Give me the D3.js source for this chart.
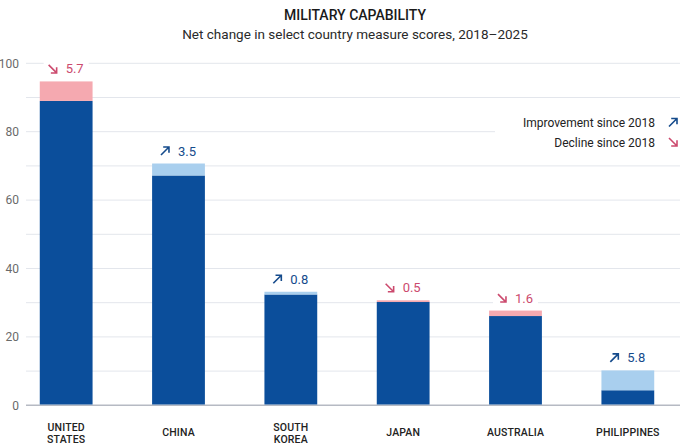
<!DOCTYPE html>
<html>
<head>
  <meta charset="UTF-8">
  <title>Military capability</title>
  <style type="text/css">
    body { margin: 0; background: #fff; }
    text { font-family: Roboto, "Noto Sans", sans-serif; }
  </style>
</head>
<body>
  <script src="https://d3js.org/d3.v7.min.js"></script>
  <script>
    // chart data
    var countries = ["UNITED STATES", "CHINA", "SOUTH KOREA", "JAPAN", "AUSTRALIA", "PHILIPPINES"];
    var countryLines = [["UNITED", "STATES"], ["CHINA"], ["SOUTH", "KOREA"], ["JAPAN"], ["AUSTRALIA"], ["PHILIPPINES"]];
    // lower of the two scores (dark part of the bar)
    var baseScores = [89.0, 67.2, 32.4, 30.2, 26.1, 4.4];
    // net change 2018-2025 (light part of the bar)
    var changes = [5.7, 3.5, 0.8, 0.5, 1.6, 5.8];
    var directions = ["down", "up", "up", "down", "down", "up"];
    var yTicks = [0, 20, 40, 60, 80, 100];
    var gridTicks = [0, 10, 20, 30, 40, 50, 60, 70, 80, 90, 100];
    var legendLabels = ["Improvement since 2018", "Decline since 2018"];
    var legendDirections = ["up", "down"];

    var W = 680, H = 446;
    var darkBlue = "#0b4e9b", lightBlue = "#a9cfee", pink = "#f5a9b0";
    var blueText = "#154b8c", pinkText = "#cc4a6e";

    var svg = d3.select("body").append("svg")
      .attr("width", W)
      .attr("height", H);

    var xScale = d3.scaleBand()
      .domain(countries)
      .range([10, 684])
      .paddingInner(0.53)
      .paddingOuter(0.265);

    var yScale = d3.scaleLinear()
      .domain([0, 100])
      .range([405.3, 63.3]);

    // title
    svg.append("text")
      .attr("x", 355).attr("y", 19.5)
      .attr("text-anchor", "middle")
      .style("font-size", "14px").style("font-weight", 500)
      .style("fill", "#1a1a1a")
      .text("MILITARY CAPABILITY");
    svg.append("text")
      .attr("x", 355).attr("y", 39)
      .attr("text-anchor", "middle")
      .style("font-size", "13.5px")
      .style("fill", "#2a2a2a")
      .text("Net change in select country measure scores, 2018\u20132025");

    // gridlines
    svg.append("g").selectAll("line")
      .data(gridTicks)
      .enter().append("line")
      .attr("x1", 26).attr("x2", W)
      .attr("y1", function(d) { return yScale(d); })
      .attr("y2", function(d) { return yScale(d); })
      .style("stroke", function(d) { return d === 0 ? "#b6bac3" : "#e3e6ec"; })
      .style("stroke-width", function(d) { return d === 0 ? 1.6 : 1; });

    // y axis labels
    var yAxis = d3.axisLeft(yScale).tickValues(yTicks).tickSize(0).tickPadding(0);
    var yg = svg.append("g")
      .attr("transform", "translate(19,0)")
      .call(yAxis);
    yg.select(".domain").remove();
    yg.selectAll("text")
      .style("font-family", "Roboto, sans-serif")
      .style("font-size", "12px")
      .style("fill", "#6a6a6a");

    // arrow glyph, 8x8, bottom-left at (0,0)
    function arrowPath(dir) {
      if (dir === "up") return "M0,0L8,-8M2.2,-8L8,-8L8,-2.2";
      return "M0,-8L8,0M8,-5.8L8,0L2.2,0";
    }

    var rows = countries.map(function(c, i) {
      return { name: c, base: baseScores[i], change: changes[i], dir: directions[i], lines: countryLines[i] };
    });

    // bars: dark base then light change on top
    var bars = svg.append("g");
    bars.selectAll("rect.base")
      .data(rows)
      .enter().append("rect")
      .attr("class", "base")
      .attr("x", function(d) { return xScale(d.name); })
      .attr("width", xScale.bandwidth())
      .attr("y", function(d) { return yScale(d.base); })
      .attr("height", function(d) { return yScale(0) - yScale(d.base) - 0.8; })
      .style("fill", darkBlue);
    bars.selectAll("rect.change")
      .data(rows)
      .enter().append("rect")
      .attr("class", "change")
      .attr("x", function(d) { return xScale(d.name); })
      .attr("width", xScale.bandwidth())
      .attr("y", function(d) { return yScale(d.base + d.change); })
      .attr("height", function(d) { return yScale(d.base) - yScale(d.base + d.change); })
      .style("fill", function(d) { return d.dir === "up" ? lightBlue : pink; });

    // value labels with white backing
    rows.forEach(function(d) {
      var cx = xScale(d.name) + xScale.bandwidth() / 2;
      var by = yScale(d.base + d.change) - 8;
      var col = d.dir === "up" ? blueText : pinkText;
      var g = svg.append("g");
      var bg = g.append("rect").style("fill", "#fff");
      var arrow = g.append("path")
        .attr("d", arrowPath(d.dir))
        .style("fill", "none")
        .style("stroke", col)
        .style("stroke-width", 1.6);
      var t = g.append("text")
        .attr("y", by)
        .style("font-size", "13px")
        .style("fill", col)
        .text(d.change.toFixed(1));
      var tw = t.node().getComputedTextLength();
      var total = 8 + 9 + tw;
      var x0 = cx - total / 2;
      arrow.attr("transform", "translate(" + x0 + "," + (by - 0.5) + ")");
      t.attr("x", x0 + 17);
      bg.attr("x", x0 - 5).attr("y", by - 12)
        .attr("width", total + 10).attr("height", 15);
    });

    // x labels
    var xl = svg.append("g").selectAll("text")
      .data(rows)
      .enter().append("text")
      .attr("text-anchor", "middle")
      .attr("x", function(d) { return xScale(d.name) + xScale.bandwidth() / 2; })
      .attr("y", function(d) { return d.lines.length > 1 ? 431 : 435.5; })
      .style("font-size", "10.5px")
      .style("font-weight", 500)
      .style("letter-spacing", "0.15px")
      .style("fill", "#222");
    xl.selectAll("tspan")
      .data(function(d) { return d.lines; })
      .enter().append("tspan")
      .attr("x", function() { return d3.select(this.parentNode).attr("x"); })
      .attr("dy", function(d, i) { return i === 0 ? 0 : 12; })
      .text(function(d) { return d; });

    // legend
    var lg = svg.append("g");
    lg.append("rect")
      .attr("x", 495).attr("y", 111)
      .attr("width", 185).attr("height", 44)
      .style("fill", "#fff");
    legendLabels.forEach(function(lab, i) {
      var y = 127 + i * 19.5;
      var col = legendDirections[i] === "up" ? blueText : pinkText;
      lg.append("text")
        .attr("x", 655).attr("y", y)
        .attr("text-anchor", "end")
        .style("font-size", "12px")
        .style("fill", "#222")
        .text(lab);
      lg.append("path")
        .attr("d", arrowPath(legendDirections[i]))
        .attr("transform", "translate(669," + (y - 0.5) + ")")
        .style("fill", "none")
        .style("stroke", col)
        .style("stroke-width", 1.6);
    });
  </script>
</body>
</html>
